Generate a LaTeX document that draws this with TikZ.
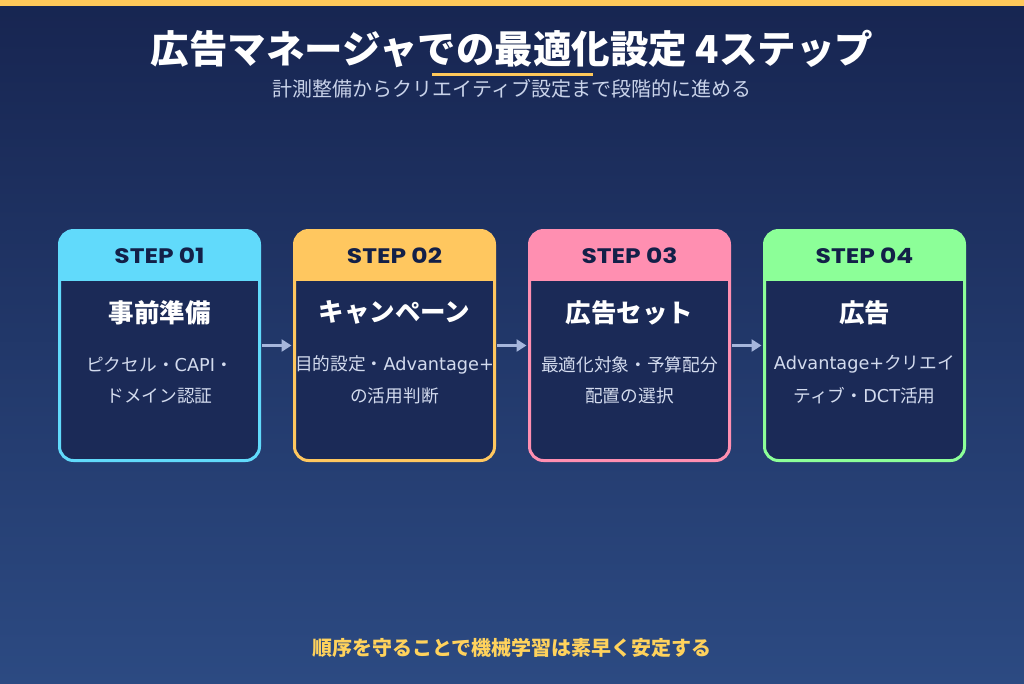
\documentclass[tikz,border=0pt]{standalone}
\usepackage{fontspec}
\setmainfont{Noto Sans CJK JP}
\newfontfamily\cjk{Noto Sans CJK JP}
\newfontfamily\lat{DejaVu Sans}[Scale=1.0]
\newfontfamily\lab{Poppins}
\usetikzlibrary{arrows.meta}
\definecolor{bgtop}{HTML}{172551}
\definecolor{bgbot}{HTML}{2C4A82}
\definecolor{cardfill}{HTML}{1B2A57}
\definecolor{ccyan}{HTML}{61DAFB}
\definecolor{cyellow}{HTML}{FFC75F}
\definecolor{cpink}{HTML}{FF8FB1}
\definecolor{cgreen}{HTML}{8CFF98}
\definecolor{accent}{HTML}{FFC85A}
\definecolor{foottext}{HTML}{FFD25C}
\definecolor{subtext}{HTML}{C9D3EA}
\definecolor{desctext}{HTML}{D3DBEE}
\definecolor{labeltext}{HTML}{132048}
\definecolor{arrowc}{HTML}{A6B6DC}
\newcommand{\steptext}[1]{\scalebox{1.19}[1]{#1}}
\tikzset{
  card/.style={minimum width=200pt, minimum height=230pt, inner sep=0pt, outer sep=0pt, anchor=north west},
  steplabel/.style={text=labeltext, font=\lab\bfseries\fontsize{21}{24}\selectfont, inner sep=0pt},
  cardtitle/.style={text=white, font=\cjk\bfseries\fontsize{25.5}{30}\selectfont, inner sep=0pt},
  desc/.style={text=desctext, font=\cjk\fontsize{17.7}{30}\selectfont, align=center, inner sep=0pt},
  flow/.style={draw=arrowc, line width=3pt, -{Triangle[length=10pt,width=12pt]}, shorten <=2.5pt, shorten >=3pt}
}
\begin{document}
\begin{tikzpicture}[x=1pt,y=-1pt]
\useasboundingbox (0,0) rectangle (1024,683);
\shade[top color=bgtop, bottom color=bgbot] (0,0) rectangle (1024,683);
\fill[accent] (0,0) rectangle (1024,6);

\node[text=white, font=\cjk\bfseries\fontsize{38.5}{42}\selectfont, inner sep=0pt] (title) at (512,49) {広告マネージャでの最適化設定 4ステップ};
\coordinate (ulA) at (432,74);
\coordinate (ulB) at (593,74);
\draw[accent, line width=3pt] (ulA) -- (ulB);
\node[text=subtext, font=\cjk\fontsize{20}{22}\selectfont, inner sep=0pt] (subtitle) at (512,89) {計測整備からクリエイティブ設定まで段階的に進める};

\foreach \i/\L/\c/\s/\t/\da/\db in {
  1/59.5/ccyan/STEP 01/事前準備/ピクセル・{\lat CAPI}・/ドメイン認証,
  2/294.5/cyellow/STEP 02/キャンペーン/目的設定・{\lat Advantage+}/の活用判断,
  3/529.5/cpink/STEP 03/広告セット/最適化対象・予算配分/配置の選択,
  4/764.5/cgreen/STEP 04/広告/{\lat Advantage+}クリエイ/ティブ・{\lat DCT}活用}{
  \node[card] (box\i) at (\L,230.5) {};
  \begin{scope}
    \clip[rounded corners=14pt] (box\i.north west) rectangle (box\i.south east);
    \fill[cardfill] (box\i.north west) rectangle (box\i.south east);
    \fill[\c] (box\i.north west) rectangle ([yshift=-50pt]box\i.north east);
  \end{scope}
  \draw[\c, line width=3pt, rounded corners=14pt] (box\i.north west) rectangle (box\i.south east);
  \node[steplabel] (lab\i) at ([yshift=-25pt]box\i.north) {\steptext{\s}};
  \node[cardtitle] (ttl\i) at ([yshift=-82pt]box\i.north) {\t};
  \node[desc] (da\i) at ([yshift=-134pt]box\i.north) {\da};
  \node[desc] (db\i) at ([yshift=-165.5pt]box\i.north) {\db};
}
\foreach \a/\b in {1/2,2/3,3/4}{
  \draw[flow] ([yshift=-115pt]box\a.north east) -- ([yshift=-115pt]box\b.north west);
}

\node[text=foottext, font=\cjk\bfseries\fontsize{20}{22}\selectfont, inner sep=0pt] (footer) at (512,648) {順序を守ることで機械学習は素早く安定する};
\end{tikzpicture}
\end{document}
